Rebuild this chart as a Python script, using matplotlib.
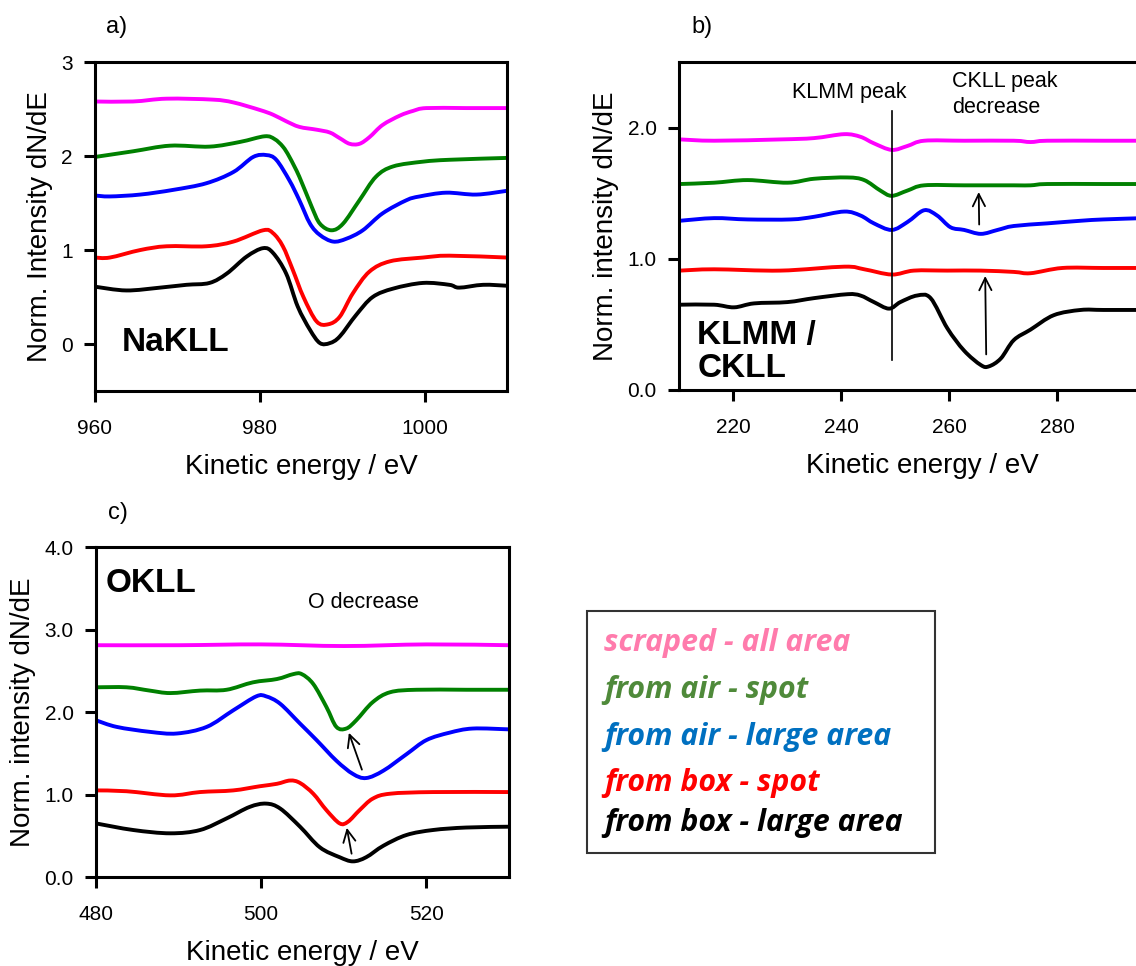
import matplotlib
matplotlib.use("Agg")
import matplotlib.pyplot as plt
from matplotlib.patches import Rectangle, PathPatch
from matplotlib.path import Path

plt.rcParams['font.family'] = ['Liberation Sans', 'DejaVu Sans']

#---------------------------------------------------------------------------------------------------------------------------
# Data (each curve keeps its own energy points)

line_colors = ['#FF00FF', '#008000', '#0000FF', '#FF0000', '#000000']
legend_labels = ['scraped - all area', 'from air - spot', 'from air - large area',
                 'from box - spot', 'from box - large area']
legend_colors = ['#FF7BAC', '#4F8A3A', '#0070C0', '#FF0000', '#000000']

# a) NaKLL
na_scraped_x = [960, 964.6, 968.7, 974.3, 976.8, 980.0, 981.6, 983.2, 984.8, 986.9, 988.5,
                989.7, 990.9, 992.1, 993.3, 994.9, 997.0, 998.6, 1000.2, 1005, 1010]
na_scraped_y = [2.58, 2.58, 2.61, 2.60, 2.57, 2.49, 2.44, 2.37, 2.31, 2.28, 2.25,
                2.19, 2.13, 2.13, 2.20, 2.33, 2.43, 2.48, 2.51, 2.51, 2.51]
na_air_spot_x = [960, 964.6, 969.1, 973.9, 977.6, 980.6, 981.8, 982.8, 983.6, 984.8, 986.3,
                 987.3, 988.7, 990.1, 992.1, 994.1, 996.2, 999.8, 1003, 1010]
na_air_spot_y = [1.99, 2.05, 2.11, 2.10, 2.15, 2.21, 2.18, 2.10, 1.99, 1.78, 1.46,
                 1.28, 1.21, 1.28, 1.53, 1.78, 1.89, 1.94, 1.96, 1.98]
na_air_large_x = [960, 961.8, 965.5, 969.5, 973.5, 976.8, 979.2, 980.8, 982.0, 983.6, 984.8,
                  986.1, 987.3, 988.9, 990.5, 992.5, 994.9, 997.8, 999.4, 1002.6, 1006.3, 1010]
na_air_large_y = [1.58, 1.57, 1.59, 1.64, 1.71, 1.83, 1.99, 2.01, 1.96, 1.74, 1.53,
                  1.28, 1.16, 1.09, 1.12, 1.21, 1.39, 1.53, 1.57, 1.61, 1.59, 1.63]
na_box_spot_x = [960, 961.8, 965.5, 968.7, 973.5, 976.8, 980.4, 981.6, 982.8, 984.0, 985.3,
                 986.9, 988.3, 989.7, 991.3, 993.3, 995.8, 999.8, 1003, 1010]
na_box_spot_y = [0.92, 0.92, 1.00, 1.04, 1.04, 1.09, 1.21, 1.18, 1.04, 0.79, 0.50,
                 0.24, 0.21, 0.29, 0.54, 0.77, 0.88, 0.92, 0.94, 0.92]
na_box_large_x = [960, 963.8, 967.9, 971.1, 973.9, 976.0, 978.4, 980.4, 981.6, 983.2, 984.6,
                  986.1, 987.3, 988.5, 989.7, 991.7, 993.7, 996.2, 999.8, 1003, 1004.2,
                  1007.1, 1010]
na_box_large_y = [0.61, 0.57, 0.60, 0.63, 0.65, 0.75, 0.93, 1.02, 0.97, 0.75, 0.40,
                  0.15, 0.01, 0.01, 0.08, 0.31, 0.50, 0.59, 0.65, 0.63, 0.60, 0.63, 0.62]

# b) KLMM / CKLL
c_scraped_x = [210.2, 216.5, 228.8, 235, 240.6, 243.6, 246.1, 249.4, 252.3, 255.4, 262.8,
               272, 275.1, 278.2, 288.6, 296]
c_scraped_y = [1.91, 1.90, 1.91, 1.92, 1.95, 1.93, 1.88, 1.83, 1.86, 1.90, 1.90,
               1.90, 1.89, 1.90, 1.90, 1.90]
c_air_spot_x = [210.2, 216.5, 222.7, 230.1, 235, 241.2, 244.3, 247.3, 249.4, 252.3, 255.4,
                262.8, 272, 275.1, 278.2, 288.6, 296]
c_air_spot_y = [1.57, 1.58, 1.60, 1.58, 1.61, 1.62, 1.60, 1.52, 1.48, 1.52, 1.56,
                1.56, 1.56, 1.56, 1.57, 1.57, 1.57]
c_air_large_x = [210.2, 216.5, 222.7, 230.7, 235, 240.6, 243.6, 246.1, 249.4, 252.3, 255.4,
                 257.8, 260.3, 262.8, 265.9, 269, 272, 278.2, 284.4, 288.6, 296]
c_air_large_y = [1.29, 1.31, 1.30, 1.30, 1.32, 1.36, 1.33, 1.27, 1.22, 1.28, 1.37,
                 1.33, 1.24, 1.22, 1.19, 1.22, 1.25, 1.27, 1.29, 1.30, 1.31]
c_box_spot_x = [210.2, 216.5, 228.8, 240.6, 244.3, 249.4, 253.5, 259.7, 265.9, 272, 275.1,
                281, 288.6, 296]
c_box_spot_y = [0.91, 0.92, 0.91, 0.94, 0.92, 0.88, 0.91, 0.91, 0.91, 0.90, 0.89,
                0.93, 0.93, 0.93]
c_box_large_x = [210.2, 216.5, 220.2, 223.9, 230.1, 235, 241.2, 243.6, 246.1, 248.9, 251.0,
                 254.1, 256.6, 259.7, 262.8, 265.9, 267.4, 269.6, 272, 275.1, 279.4,
                 284.4, 288.6, 296]
c_box_large_y = [0.65, 0.65, 0.63, 0.66, 0.67, 0.70, 0.73, 0.72, 0.67, 0.62, 0.67,
                 0.72, 0.70, 0.47, 0.30, 0.19, 0.18, 0.24, 0.38, 0.46, 0.57,
                 0.61, 0.61, 0.61]

# c) OKLL
o_scraped_x = [480, 490, 500, 510, 520, 530]
o_scraped_y = [2.81, 2.81, 2.82, 2.80, 2.82, 2.81]
o_air_spot_x = [480, 483.7, 486.5, 489, 492.6, 495.8, 499, 501.9, 503.9, 504.9, 506.3, 507.9,
                509.1, 510.3, 511.5, 513.5, 515.6, 518.8, 524.8, 530]
o_air_spot_y = [2.30, 2.30, 2.26, 2.23, 2.26, 2.27, 2.36, 2.40, 2.46, 2.46, 2.34, 2.06,
                1.82, 1.80, 1.90, 2.12, 2.24, 2.27, 2.27, 2.27]
o_air_large_x = [480, 482.5, 486.5, 489.8, 493.4, 496.6, 499.4, 500.6, 502.3, 504.7, 506.7,
                 509.1, 511.1, 512.7, 514.8, 517.6, 520, 522.8, 525.6, 530]
o_air_large_y = [1.90, 1.82, 1.76, 1.74, 1.82, 2.02, 2.19, 2.19, 2.10, 1.86, 1.66,
                 1.41, 1.25, 1.20, 1.29, 1.49, 1.66, 1.75, 1.80, 1.79]
o_box_spot_x = [480, 483.7, 489, 492.6, 496.6, 499.8, 501.9, 503.5, 504.7, 506.3, 507.9,
                509.5, 510.5, 511.9, 513.5, 515.6, 520.8, 530]
o_box_spot_y = [1.05, 1.04, 0.99, 1.03, 1.05, 1.10, 1.13, 1.17, 1.14, 1.01, 0.81,
                0.65, 0.67, 0.81, 0.95, 1.01, 1.03, 1.03]
o_box_large_x = [480, 484.5, 489, 492.6, 495.8, 498.6, 500.6, 502.3, 504.7, 507.1, 509.5,
                 511.1, 512.7, 514.8, 517.6, 520.8, 524.8, 530]
o_box_large_y = [0.65, 0.57, 0.53, 0.57, 0.71, 0.85, 0.89, 0.83, 0.61, 0.36, 0.24,
                 0.19, 0.24, 0.38, 0.51, 0.57, 0.60, 0.61]

#---------------------------------------------------------------------------------------------------------------------------

def smooth_curve(ax, x, y, color):
    # draw the read points joined by Catmull-Rom bezier segments
    n = len(x)
    verts = [(x[0], y[0])]
    codes = [Path.MOVETO]
    for i in range(n - 1):
        i0 = max(i - 1, 0)
        i3 = min(i + 2, n - 1)
        c1 = (x[i] + (x[i + 1] - x[i0]) / 6, y[i] + (y[i + 1] - y[i0]) / 6)
        c2 = (x[i + 1] - (x[i3] - x[i]) / 6, y[i + 1] - (y[i3] - y[i]) / 6)
        verts += [c1, c2, (x[i + 1], y[i + 1])]
        codes += [Path.CURVE4] * 3
    ax.add_patch(PathPatch(Path(verts, codes), facecolor='none', edgecolor=color,
                           lw=2.8, capstyle='butt', joinstyle='round'))


def draw_set(ax, curves):
    for (x, y), col in zip(curves, line_colors):
        smooth_curve(ax, x, y, col)


def style_axes(ax, ylabel):
    for s in ax.spines.values():
        s.set_linewidth(2.2)
    ax.tick_params(direction='out', length=8, width=2.2, labelsize=15)
    ax.tick_params(axis='x', pad=12)
    ax.tick_params(axis='y', pad=8)
    ax.set_xlabel("Kinetic energy / eV", fontsize=20, labelpad=12)
    ax.set_ylabel(ylabel, fontsize=20, labelpad=6)


fig = plt.figure(figsize=(11.36, 9.66), dpi=100)
W, H = 1136, 966

# a)
axa = fig.add_axes([0.0836, 0.5952, 0.3627, 0.3406])
draw_set(axa, [(na_scraped_x, na_scraped_y), (na_air_spot_x, na_air_spot_y),
               (na_air_large_x, na_air_large_y), (na_box_spot_x, na_box_spot_y),
               (na_box_large_x, na_box_large_y)])
axa.set_xlim(960, 1010)
axa.set_ylim(-0.5, 3)
axa.set_xticks([960, 980, 1000])
axa.set_yticks([0, 1, 2, 3])
style_axes(axa, "Norm. Intensity dN/dE")
axa.text(963.2, 0.02, "NaKLL", fontsize=24, fontweight='bold', va='center')

# b)
axb = fig.add_axes([0.5977, 0.5963, 0.4278, 0.3395])
draw_set(axb, [(c_scraped_x, c_scraped_y), (c_air_spot_x, c_air_spot_y),
               (c_air_large_x, c_air_large_y), (c_box_spot_x, c_box_spot_y),
               (c_box_large_x, c_box_large_y)])
axb.set_xlim(210, 300)
axb.set_ylim(0, 2.5)
axb.set_xticks([220, 240, 260, 280])
axb.set_yticks([0, 1, 2])
axb.set_yticklabels(["0.0", "1.0", "2.0"])
style_axes(axb, "Norm. intensity dN/dE")
axb.plot([249.4, 249.4], [0.23, 2.13], color='black', lw=1.2)
axb.text(241.5, 2.27, "KLMM peak", fontsize=15.5, ha='center', va='center')
axb.text(260.6, 2.25, "CKLL peak\ndecrease", fontsize=15.5, ha='left', va='center',
         linespacing=1.3)
axb.text(213.4, 0.29, "KLMM /\nCKLL", fontsize=24, fontweight='bold', va='center',
         linespacing=1.05)
axb.annotate("", xy=(265.5, 1.53), xytext=(265.6, 1.24),
             arrowprops=dict(arrowstyle='->', color='black', lw=1.3, mutation_scale=22))
axb.annotate("", xy=(266.7, 0.89), xytext=(266.9, 0.25),
             arrowprops=dict(arrowstyle='->', color='black', lw=1.3, mutation_scale=22))

# c)
axc = fig.add_axes([0.0845, 0.0921, 0.3636, 0.3416])
draw_set(axc, [(o_scraped_x, o_scraped_y), (o_air_spot_x, o_air_spot_y),
               (o_air_large_x, o_air_large_y), (o_box_spot_x, o_box_spot_y),
               (o_box_large_x, o_box_large_y)])
axc.set_xlim(480, 530)
axc.set_ylim(0, 4)
axc.set_xticks([480, 500, 520])
axc.set_yticks([0, 1, 2, 3, 4])
axc.set_yticklabels(["0.0", "1.0", "2.0", "3.0", "4.0"])
style_axes(axc, "Norm. intensity dN/dE")
axc.text(481.2, 3.56, "OKLL", fontsize=24, fontweight='bold', va='center')
axc.text(505.7, 3.33, "O decrease", fontsize=15.5, va='center')
axc.annotate("", xy=(510.5, 1.78), xytext=(512.3, 1.27),
             arrowprops=dict(arrowstyle='->', color='black', lw=1.3, mutation_scale=22))
axc.annotate("", xy=(510.3, 0.63), xytext=(511.0, 0.25),
             arrowprops=dict(arrowstyle='->', color='black', lw=1.3, mutation_scale=22))

# panel letters
fig.text(106 / W, 1 - 27 / H, "a)", fontsize=17, va='center')
fig.text(691 / W, 1 - 27 / H, "b)", fontsize=17, va='center')
fig.text(108 / W, 1 - 513 / H, "c)", fontsize=17, va='center')

# legend box
fig.patches.append(Rectangle((587 / W, 1 - 853 / H), (935 - 587) / W, (853 - 611) / H,
                             transform=fig.transFigure, fill=False, edgecolor='#333333',
                             lw=1.5))
leg_y = [643, 690, 737, 783, 823]
for lab, col, yy in zip(legend_labels, legend_colors, leg_y):
    fig.text(604 / W, 1 - yy / H, lab, color=col, fontsize=21.8, fontweight='bold',
             fontstyle='italic', family=['Open Sans', 'DejaVu Sans'], va='center')

fig.savefig("out.png", dpi=100)
